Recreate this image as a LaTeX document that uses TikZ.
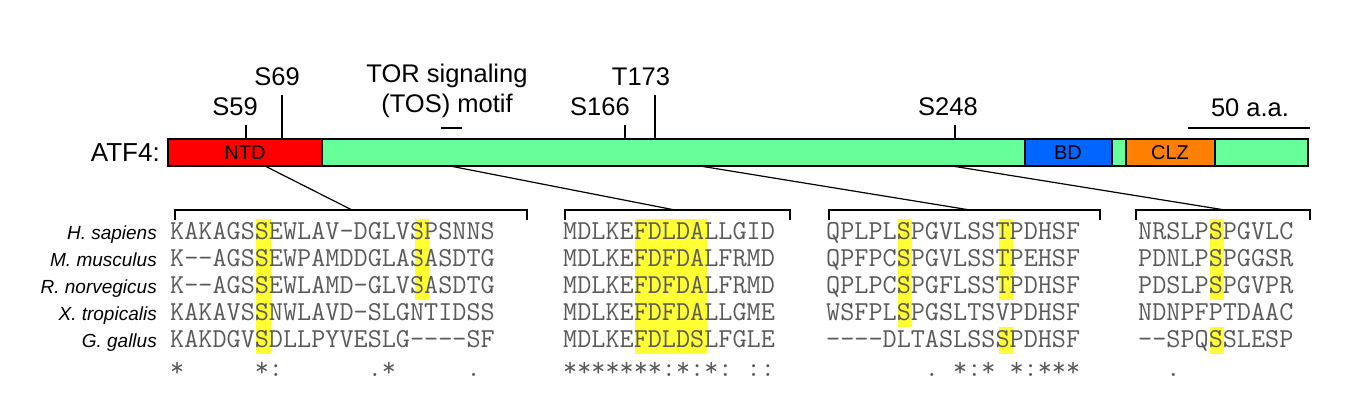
\documentclass[tikz,border=0pt]{standalone}
\usepackage{fontspec}
\setmainfont{Liberation Sans}
\definecolor{ntdred}{RGB}{255,0,0}
\definecolor{bodygreen}{RGB}{102,255,153}
\definecolor{bdblue}{RGB}{0,102,255}
\definecolor{clzorange}{RGB}{255,128,0}
\definecolor{hlyellow}{RGB}{255,255,51}
\definecolor{seqgray}{RGB}{90,90,90}
\tikzset{
  lab/.style={font=\fontsize{25.5}{25.5}\selectfont, inner sep=0pt},
  dom/.style={draw=black, line width=1.2pt},
  species/.style={font=\fontsize{19}{19}\selectfont\itshape, anchor=base east, inner sep=0pt},
  seq/.style={font=\fontsize{27.4}{27.4}\ttfamily, text=seqgray, anchor=base west, inner sep=0pt},
  hl/.style={fill=hlyellow},
}
% highlight columns #2..#3 of a block starting at #1, rows #4..#5
\newcommand\hlcols[5]{\fill[hl] ({#1+#2*14.4},{239+27*(#4-1)-20}) rectangle ({#1+(#3+1)*14.4},{239+27*(#5-1)+7});}
\begin{document}
\begin{tikzpicture}[x=1pt, y=-1pt]
    \useasboundingbox (0,0) rectangle (1354,408);
    % protein bar
    \draw[dom, fill=bodygreen] (168,139) rectangle (1308,166);
    \draw[dom, fill=ntdred] (168,139) rectangle (322,166);
    \draw[dom, fill=bdblue] (1025,139) rectangle (1112,166);
    \draw[dom, fill=clzorange] (1126,139) rectangle (1215,166);
    \node[font=\fontsize{20}{20}\selectfont] (ntd) at (245,153) {NTD};
    \node[font=\fontsize{20}{20}\selectfont] (bd) at (1068,153) {BD};
    \node[font=\fontsize{20}{20}\selectfont] (clz) at (1170,153) {CLZ};
    \node[lab, font=\fontsize{26}{26}\selectfont, anchor=east] (atf) at (160,153) {ATF4:};

    % sites
    \foreach \x/\ytop/\name/\lx in {246/125/S59/235, 282/95/S69/277, 625/125/S166/600, 655/95/T173/641, 955/125/S248/948}{
      \draw[line width=1.5pt] (\x,\ytop) -- (\x,139);
      \node[lab, anchor=base] at (\lx,\ytop-10) {\name};
    }
    \node[lab, align=center] (tos) at (447,91) {TOR signaling\\[4pt](TOS) motif};
    \draw[line width=2pt] (441,128) -- (462,128);
    \node[lab, anchor=base] (scale) at (1250,116) {50 a.a.};
    \draw[line width=2pt] (1188,128) -- (1310,128);

    % brackets and mapping lines
    \foreach \xa/\xb/\xm/\xs in {175/527/352/265, 565/790/675/450, 829/1100/970/700, 1136/1310/1225/952}{
      \draw[line width=1.5pt] (\xa,220) -- (\xa,210) -- (\xb,210) -- (\xb,220);
      \draw[line width=1.2pt] (\xs,166) -- (\xm,210);
    }

    % highlights
    \hlcols{170}{6}{6}{1}{5}
    \hlcols{170}{17}{17}{1}{3}
    \hlcols{563}{5}{9}{1}{5}
    \hlcols{826}{5}{5}{1}{4}
    \hlcols{826}{12}{12}{1}{3}
    \hlcols{826}{12}{12}{5}{5}
    \hlcols{1138}{5}{5}{1}{3}
    \hlcols{1138}{5}{5}{5}{5}

    % species
    \foreach \sp [count=\i] in {H. sapiens, M. musculus, R. norvegicus, X. tropicalis, G. gallus}{
      \node[species] (sp\i) at (157,{239+27*(\i-1)}) {\sp};
    }
    % sequences
    \foreach \sa/\sb/\sc/\sd [count=\i] in {
      KAKAGSSEWLAV-DGLVSPSNNS/MDLKEFDLDALLGID/QPLPLSPGVLSSTPDHSF/NRSLPSPGVLC,
      K--AGSSEWPAMDDGLASASDTG/MDLKEFDFDALFRMD/QPFPCSPGVLSSTPEHSF/PDNLPSPGGSR,
      K--AGSSEWLAMD-GLVSASDTG/MDLKEFDFDALFRMD/QPLPCSPGFLSSTPDHSF/PDSLPSPGVPR,
      KAKAVSSNWLAVD-SLGNTIDSS/MDLKEFDFDALLGME/WSFPLSPGSLTSVPDHSF/NDNPFPTDAAC,
      KAKDGVSDLLPYVESLG----SF/MDLKEFDLDSLFGLE/----DLTASLSSSPDHSF/--SPQSSLESP}{
      \node[seq] (a\i) at (170,{239+27*(\i-1)}) {\sa};
      \node[seq] (b\i) at (563,{239+27*(\i-1)}) {\sb};
      \node[seq] (c\i) at (826,{239+27*(\i-1)}) {\sc};
      \node[seq] (d\i) at (1138,{239+27*(\i-1)}) {\sd};
    }
    % conservation
    \node[seq] (ca) at (170,376) {*~~~~~*:~~~~~~.*~~~~~.};
    \node[seq] (cb) at (563,376) {*******:*:*:~::};
    \node[seq] (cc) at (826,376) {~~~~~~~.~*:*~*:***};
    \node[seq] (cd) at (1138,376) {~~.};
\end{tikzpicture}
\end{document}
